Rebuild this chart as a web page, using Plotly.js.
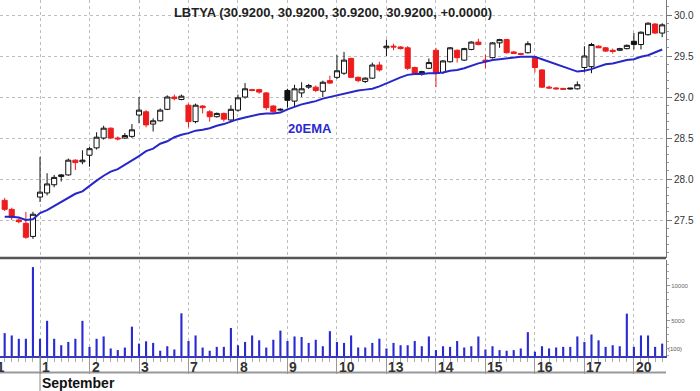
<!DOCTYPE html>
<html><head><meta charset="utf-8">
<script src="https://cdn.plot.ly/plotly-3.0.1.min.js"></script>
<style>html,body{margin:0;padding:0;background:#fff;}#chart{width:700px;height:391px;}</style>
</head><body><div id="chart"></div>
<script>
// ---- data ----
const symbol = 'LBTYA';
const titleValues = '(30.9200, 30.9200, 30.9200, 30.9200, +0.0000)';
const prevDayLabel = '31';
const monthLabel = 'September';
const dayLabels = ['1','2','3','7','8','9','10','13','14','15','16','17','20'];
const barsPerDay = 7;
const leadingBars = 5; // bars of Aug 31 still in view

const opens = [27.74,27.63,27.50,27.46,27.30,
 27.78,27.83,27.93,28.03,28.05,28.23,28.21,
 28.29,28.38,28.50,28.62,28.50,28.50,28.52,
 28.78,28.82,28.67,28.71,28.85,29.00,28.97,
 28.90,28.70,28.89,28.82,28.76,28.80,28.72,
 28.84,29.00,29.09,29.09,29.05,28.89,28.84,
 29.08,28.95,29.05,29.12,29.12,29.07,29.20,
 29.24,29.29,29.47,29.24,29.19,29.23,29.39,
 29.60,29.62,29.61,29.60,29.36,29.28,29.35,
 29.57,29.30,29.43,29.57,29.45,29.58,29.67,
 29.45,29.48,29.66,29.70,29.55,29.53,29.54,
 29.48,29.33,29.12,29.11,29.105,29.11,29.10,
 29.36,29.37,29.62,29.60,29.57,29.57,29.59,
 29.68,29.64,29.76,29.89,29.78];
const highs = [27.77,27.65,27.52,27.60,27.60,
 28.27,28.07,28.05,28.06,28.25,28.24,28.35,
 28.39,28.57,28.65,28.63,28.52,28.56,28.67,
 29.00,28.84,28.74,28.86,29.02,29.03,29.03,
 28.92,28.92,28.90,28.84,28.81,28.81,28.90,
 29.03,29.17,29.10,29.10,29.06,28.90,28.86,
 29.10,29.15,29.18,29.16,29.14,29.20,29.26,
 29.51,29.55,29.48,29.25,29.24,29.42,29.43,
 29.70,29.65,29.62,29.62,29.37,29.32,29.47,
 29.60,29.45,29.61,29.58,29.60,29.68,29.71,
 29.52,29.67,29.71,29.71,29.56,29.54,29.68,
 29.49,29.34,29.14,29.12,29.11,29.11,29.19,
 29.62,29.66,29.63,29.61,29.59,29.60,29.64,
 29.78,29.80,29.91,29.90,29.90];
const lows = [27.61,27.50,27.46,27.27,27.27,
 27.72,27.80,27.90,27.97,28.04,28.11,28.18,
 28.15,28.36,28.48,28.49,28.47,28.49,28.50,
 28.68,28.63,28.58,28.70,28.84,28.96,28.96,
 28.63,28.68,28.80,28.70,28.75,28.70,28.70,
 28.82,28.98,29.07,29.04,28.84,28.80,28.83,
 28.87,28.88,29.00,29.10,29.06,29.00,29.16,
 29.22,29.27,29.23,29.18,29.17,29.22,29.31,
 29.50,29.57,29.58,29.33,29.27,29.26,29.34,
 29.12,29.28,29.42,29.42,29.44,29.57,29.63,
 29.35,29.47,29.60,29.53,29.53,29.51,29.53,
 29.30,29.11,29.10,29.09,29.09,29.09,29.09,
 29.30,29.29,29.60,29.55,29.53,29.56,29.58,
 29.58,29.58,29.75,29.77,29.73];
const closes = [27.63,27.53,27.48,27.29,27.57,
 27.84,27.94,28.02,28.05,28.23,28.20,28.23,
 28.37,28.51,28.62,28.50,28.49,28.53,28.60,
 28.84,28.66,28.71,28.84,29.00,28.98,29.01,
 28.70,28.90,28.87,28.76,28.80,28.73,28.85,
 28.99,29.10,29.08,29.06,28.87,28.82,28.85,
 28.96,29.10,29.10,29.14,29.08,29.18,29.17,
 29.32,29.45,29.24,29.20,29.23,29.39,29.33,
 29.62,29.61,29.59,29.35,29.29,29.31,29.42,
 29.29,29.44,29.60,29.48,29.59,29.67,29.64,
 29.44,29.66,29.70,29.54,29.53,29.52,29.65,
 29.36,29.12,29.11,29.10,29.095,29.10,29.15,
 29.50,29.64,29.60,29.56,29.555,29.59,29.63,
 29.64,29.79,29.90,29.78,29.88];
const volumes = [3250,2920,2450,2450,12640,
 2450,5000,2450,1530,2000,2450,5000,
 1300,2450,2780,1070,840,1200,4170,
 1760,2090,1860,750,1390,930,6070,
 2130,2920,1200,750,1300,1300,3980,
 1530,2000,2920,2230,1200,2310,3610,
 2130,2780,2700,1860,2310,1390,3530,
 2000,1860,2920,1210,1210,1860,2460,
 1070,1860,1530,1530,2130,1390,2780,
 840,1390,1300,2130,1210,1390,2780,
 930,1390,840,750,840,1070,3390,
 610,1390,1070,1210,1300,1300,2780,
 2000,3060,2230,1300,1530,1390,6020,
 1300,2920,2920,1300,1760];
const ema20 = [27.54,27.54,27.53,27.50,27.51,
 27.585,27.62,27.67,27.71,27.76,27.82,27.85,
 27.92,27.98,28.04,28.09,28.12,28.17,28.22,
 28.28,28.34,28.37,28.43,28.46,28.51,28.54,
 28.56,28.59,28.60,28.62,28.65,28.67,28.70,
 28.73,28.75,28.77,28.79,28.80,28.80,28.81,
 28.85,28.88,28.91,28.93,28.95,28.98,29.00,
 29.02,29.04,29.06,29.08,29.09,29.10,29.13,
 29.17,29.21,29.24,29.27,29.28,29.28,29.29,
 29.29,29.30,29.32,29.33,29.35,29.38,29.41,
 29.43,29.45,29.46,29.47,29.48,29.49,29.49,
 29.49,29.46,29.43,29.40,29.37,29.34,29.31,
 29.32,29.34,29.37,29.40,29.41,29.43,29.45,
 29.46,29.49,29.51,29.55,29.58];
const emaLabel = '20EMA';
const emaLabelPos = {x: 38.2, y: 28.62};
const volUnitLabel = '(100)';

// ---- derived ----
const xs = opens.map((_, i) => i - leadingBars);
const prevClose = closes.map((c, i) => i === 0 ? opens[0] : closes[i - 1]);
const dayStarts = dayLabels.map((_, k) => k * barsPerDay);

function pick(pred) {
  const ids = [];
  for (let i = 0; i < opens.length; i++) if (pred(i)) ids.push(i);
  return {
    x: ids.map(i => xs[i]), open: ids.map(i => opens[i]), high: ids.map(i => highs[i]),
    low: ids.map(i => lows[i]), close: ids.map(i => closes[i])
  };
}
function candle(sub, lineColor, fill) {
  const st = {line: {color: lineColor, width: 1}, fillcolor: fill};
  return Object.assign({type: 'candlestick', xaxis: 'x', yaxis: 'y', whiskerwidth: 0,
    increasing: st, decreasing: st, showlegend: false, hoverinfo: 'skip'}, sub);
}
const RED = '#ee1c1c', BLK = '#111111';
const traces = [
  candle(pick(i => closes[i] >= opens[i] && closes[i] >= prevClose[i]), BLK, '#ffffff'),
  candle(pick(i => closes[i] >= opens[i] && closes[i] < prevClose[i]), RED, '#ffffff'),
  candle(pick(i => closes[i] < opens[i] && closes[i] < prevClose[i]), RED, RED),
  candle(pick(i => closes[i] < opens[i] && closes[i] >= prevClose[i]), BLK, BLK),
  {type: 'scatter', mode: 'lines', x: xs, y: ema20, xaxis: 'x', yaxis: 'y',
   line: {color: '#2626c9', width: 2}, showlegend: false, hoverinfo: 'skip'},
  {type: 'bar', x: xs, y: volumes, xaxis: 'x', yaxis: 'y2', width: 0.3,
   marker: {color: '#2a2ad2', line: {width: 0}}, showlegend: false, hoverinfo: 'skip'}
];

const dayFont = {family: 'Arial', size: 14, color: '#333', weight: 'bold'};
const annotations = [
  {text: '<b>' + emaLabel + '</b>', x: emaLabelPos.x, y: emaLabelPos.y, xref: 'x', yref: 'y',
   showarrow: false, font: {family: 'Arial', size: 13, color: '#2a2acc'}},
  {text: prevDayLabel, x: 0, xref: 'paper', xanchor: 'right', xshift: 7, y: 0, yref: 'paper',
   yanchor: 'top', yshift: -1, showarrow: false, font: dayFont},
  {text: '<b>' + monthLabel + '</b>', x: dayStarts[0], xref: 'x', xanchor: 'left', xshift: 0,
   y: 0, yref: 'paper', yanchor: 'top', yshift: -17, showarrow: false,
   font: {family: 'Arial', size: 14, color: '#111'}},
  {text: volUnitLabel, x: 1, xref: 'paper', xanchor: 'left', xshift: 0, y: 1000, yref: 'y2',
   showarrow: false, font: {family: 'Arial', size: 6, color: '#555'}}
].concat(dayLabels.map((d, k) => ({
  text: d, x: dayStarts[k], xref: 'x', xanchor: 'left', xshift: 0, y: 0, yref: 'paper',
  yanchor: 'top', yshift: -1, showarrow: false, font: dayFont
})));

const layout = {
  width: 700, height: 391, paper_bgcolor: '#fff', plot_bgcolor: '#fff',
  margin: {l: 0, r: 34, t: 0, b: 35}, showlegend: false, boxgap: 0.2, boxgroupgap: 0.1,
  title: {text: '<b>' + symbol + ' ' + titleValues + '</b>', x: 0.5, xref: 'paper', xanchor: 'center',
    y: 1 - 12 / 391, yref: 'container', yanchor: 'middle', font: {family: 'Arial', size: 13, color: '#222'}},
  xaxis: {anchor: 'y2', range: [-5.66, 88.54], tickmode: 'array', tickvals: dayStarts,
    showticklabels: false, showgrid: true, griddash: 'dot', gridcolor: '#bdbdbd', gridwidth: 1,
    ticks: 'outside', ticklen: 16, tickcolor: '#999', tickwidth: 1,
    minor: {tickmode: 'linear', tick0: 0, dtick: 1, ticks: 'outside', ticklen: 4, tickcolor: '#aaa', showgrid: false},
    showline: true, linecolor: '#3a3ab8', linewidth: 1.5, zeroline: false,
    rangeslider: {visible: false}, fixedrange: true},
  yaxis: {domain: [0.2753, 1], anchor: 'x', side: 'right', range: [27.037, 30.183],
    tick0: 0, dtick: 0.5, tickformat: '.1f', showgrid: true, griddash: 'dot', gridcolor: '#bdbdbd',
    ticks: 'outside', ticklen: 5, tickcolor: '#777',
    minor: {dtick: 0.1, ticks: 'outside', ticklen: 2, tickcolor: '#999', showgrid: false},
    showline: true, linecolor: '#777', linewidth: 1, zeroline: false,
    tickfont: {family: 'Arial', size: 10, color: '#333'}},
  yaxis2: {domain: [0, 0.2697], anchor: 'x', side: 'right', range: [0, 13650],
    tickvals: [5000, 10000], tickformat: 'd', showgrid: false, ticks: 'outside', ticklen: 3, tickcolor: '#999',
    minor: {dtick: 1000, ticks: 'outside', ticklen: 2, tickcolor: '#aaa', showgrid: false},
    showline: true, linecolor: '#777', linewidth: 1, zeroline: false,
    tickfont: {family: 'Arial', size: 6, color: '#666'}},
  shapes: [
    {type: 'line', xref: 'paper', x0: 0, x1: 1, yref: 'y domain', y0: 0, y1: 0,
     line: {color: '#555', width: 2.5}},
    {type: 'line', xref: 'paper', x0: 0, x1: 1, yref: 'paper', y0: -0.046, y1: -0.046,
     line: {color: '#999', width: 2}},
    {type: 'line', xref: 'x', x0: dayStarts[0], x1: dayStarts[0], yref: 'paper', y0: 0, y1: -0.1,
     line: {color: '#888', width: 1}}
  ],
  annotations: annotations
};

Plotly.newPlot('chart', traces, layout, {staticPlot: true, displayModeBar: false});
</script></body></html>
